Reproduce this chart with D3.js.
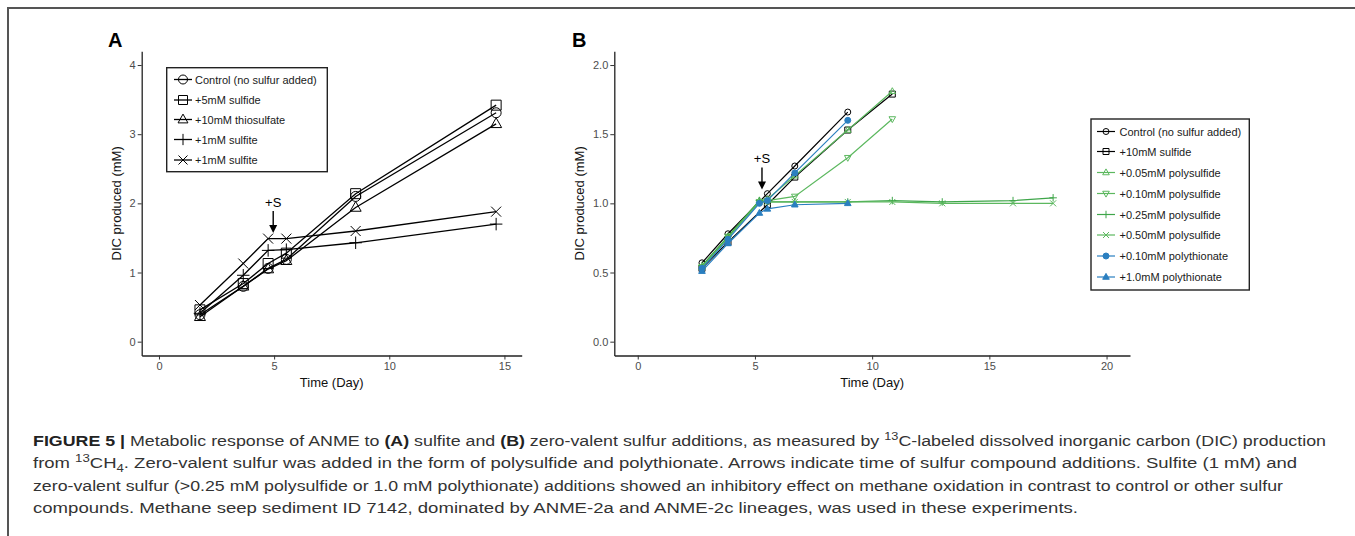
<!DOCTYPE html>
<html>
<head>
<meta charset="utf-8">
<script src="https://cdn.jsdelivr.net/npm/d3@7"></script>
<style>
  body { margin: 0; background: #fff; }
  svg text { font-family: "Liberation Sans", Arial, Helvetica, sans-serif; }
</style>
</head>
<body>
<svg id="fig" width="1355" height="536"></svg>
<script>
// ---- panel A data (sulfite additions) ----
const daysA = [1.78, 3.66, 4.74, 5.53, 8.54, 14.64];
const controlA = [0.39, 0.80, 1.06, 1.19, 2.10, 3.31];
const sulfideA = [0.46, 0.84, 1.13, 1.28, 2.14, 3.42];
const thiosulfateA = [0.36, 0.80, 1.05, 1.17, 1.94, 3.15];
const sulfitePlusA = [0.41, 0.96, 1.32, 1.33, 1.43, 1.70];
const sulfiteCrossA = [0.53, 1.13, 1.49, 1.49, 1.60, 1.88];
const labelsA = ['Control (no sulfur added)', '+5mM sulfide', '+10mM thiosulfate', '+1mM sulfite', '+1mM sulfite'];
const xTicksA = [0, 5, 10, 15];
const yTicksA = [0, 1, 2, 3, 4];

// ---- panel B data (zero-valent sulfur additions) ----
const daysB = [2.74, 3.85, 5.19, 5.53, 6.70, 8.96, 10.86, 12.99, 16.01, 17.72];
const controlB = [0.57, 0.78, null, 1.07, 1.27, 1.66, null, null, null, null];
const sulfideB = [0.53, 0.72, null, 0.99, 1.19, 1.53, 1.79, null, null, null];
const poly005B = [0.54, 0.76, 1.02, 1.03, 1.20, 1.53, 1.81, null, null, null];
const poly010B = [0.54, 0.76, 1.01, 1.02, 1.05, 1.33, 1.61, null, null, null];
const poly025B = [0.55, 0.76, 1.02, 1.01, 1.01, 1.01, 1.02, 1.01, 1.02, 1.04];
const poly050B = [0.54, 0.75, 1.01, 1.01, 1.01, 1.01, 1.01, 1.00, 1.00, 1.00];
const thio010B = [0.53, 0.74, 1.00, 1.02, 1.22, 1.60, null, null, null, null];
const thio100B = [0.51, 0.71, 0.93, 0.96, 0.99, 1.00, null, null, null, null];
const labelsB = ['Control (no sulfur added)', '+10mM sulfide', '+0.05mM polysulfide', '+0.10mM polysulfide',
  '+0.25mM polysulfide', '+0.50mM polysulfide', '+0.10mM polythionate', '+1.0mM polythionate'];
const xTicksB = [0, 5, 10, 15, 20];
const yTicksB = [0, 0.5, 1, 1.5, 2];

// sulfur addition arrows: [day, tip value, tail value]
const arrowA = [4.96, 1.57, 1.89];
const arrowB = [5.30, 1.10, 1.26];

const svg = d3.select('#fig');

// figure frame (left + top rule)
svg.append('path')
  .attr('d', 'M8,536V8H1355')
  .attr('fill', 'none')
  .attr('stroke', '#555')
  .attr('stroke-width', 2);

// marker shapes, s = half size
function markerPath(shape, s) {
  switch (shape) {
    case 'circle':
    case 'dot':
      return `M${-s},0A${s},${s} 0 1,0 ${s},0A${s},${s} 0 1,0 ${-s},0Z`;
    case 'square':
      return `M${-s},${-s}H${s}V${s}H${-s}Z`;
    case 'triUp':
    case 'triFill':
      return `M0,${-s * 1.2}L${s * 1.1},${s * 0.75}H${-s * 1.1}Z`;
    case 'triDown':
      return `M0,${s * 1.2}L${s * 1.1},${-s * 0.75}H${-s * 1.1}Z`;
    case 'plus':
      return `M${-s * 1.25},0H${s * 1.25}M0,${-s * 1.25}V${s * 1.25}`;
    case 'cross':
      return `M${-s},${-s}L${s},${s}M${-s},${s}L${s},${-s}`;
  }
}
const filled = (shape) => shape === 'dot' || shape === 'triFill';

function drawPanel(cfg) {
  const g = svg.append('g');

  const xScale = d3.scaleLinear().domain(cfg.xDomain).range(cfg.xRange);
  const yScale = d3.scaleLinear().domain(cfg.yDomain).range(cfg.yRange);

  //AXES
  const xAxis = d3.axisBottom(xScale).tickValues(cfg.xTicks).tickSize(4).tickSizeOuter(0).tickPadding(3);
  const yAxis = d3.axisLeft(yScale).tickValues(cfg.yTicks).tickSize(4).tickSizeOuter(0).tickPadding(2)
    .tickFormat(cfg.yFormat);

  const gx = g.append('g')
    .attr('transform', `translate(0,${cfg.yRange[0]})`)
    .call(xAxis);
  const gy = g.append('g')
    .attr('transform', `translate(${cfg.xRange[0]},0)`)
    .call(yAxis);
  [gx, gy].forEach((a) => {
    a.select('.domain').attr('stroke', '#222').attr('stroke-width', 1.3);
    a.selectAll('.tick line').attr('stroke', '#333').attr('stroke-width', 1);
    a.selectAll('.tick text').attr('fill', '#4d4d4d').style('font-size', '11px');
  });

  //LABELS
  g.append('text')
    .attr('x', cfg.panelPos[0])
    .attr('y', cfg.panelPos[1])
    .style('font-size', '20px')
    .style('font-weight', 'bold')
    .text(cfg.panel);

  g.append('text')
    .attr('x', (cfg.xRange[0] + cfg.xRange[1]) / 2)
    .attr('y', cfg.yRange[0] + 31)
    .attr('text-anchor', 'middle')
    .style('font-size', '13px')
    .attr('fill', '#111')
    .text('Time (Day)');

  g.append('text')
    .attr('transform', 'rotate(-90)')
    .attr('x', -(cfg.yRange[0] + cfg.yRange[1]) / 2)
    .attr('y', cfg.yLabelX)
    .attr('text-anchor', 'middle')
    .style('font-size', '13px')
    .attr('fill', '#111')
    .text('DIC produced (mM)');

  //SERIES
  const line = d3.line()
    .defined((d) => d.v !== null)
    .x((d) => xScale(d.t))
    .y((d) => yScale(d.v));

  cfg.series.forEach((s) => {
    const pts = s.values.map((v, i) => ({ t: cfg.days[i], v: v })).filter((d) => d.v !== null);
    g.append('path')
      .datum(pts)
      .attr('d', line)
      .attr('fill', 'none')
      .attr('stroke', s.color)
      .attr('stroke-width', cfg.lineWidth);
    g.selectAll(null)
      .data(pts)
      .enter()
      .append('path')
      .attr('transform', (d) => `translate(${xScale(d.t)},${yScale(d.v)})`)
      .attr('d', markerPath(s.shape, cfg.markerSize))
      .attr('fill', filled(s.shape) ? s.color : 'none')
      .attr('stroke', s.color)
      .attr('stroke-width', cfg.markerStroke);
  });

  //ARROW
  const ax = xScale(cfg.arrow[0]);
  const tip = yScale(cfg.arrow[1]);
  const tail = yScale(cfg.arrow[2]);
  g.append('line')
    .attr('x1', ax).attr('x2', ax)
    .attr('y1', tail).attr('y2', tip - 6)
    .attr('stroke', '#000')
    .attr('stroke-width', 1.4);
  g.append('path')
    .attr('d', `M${ax - 4},${tip - 8}L${ax + 4},${tip - 8}L${ax},${tip}Z`)
    .attr('fill', '#000');
  g.append('text')
    .attr('x', ax)
    .attr('y', tail - 4)
    .attr('text-anchor', 'middle')
    .style('font-size', '13px')
    .text('+S');

  //LEGEND
  const lg = cfg.legend;
  g.append('rect')
    .attr('x', lg.x).attr('y', lg.y)
    .attr('width', lg.w).attr('height', lg.h)
    .attr('fill', '#fff')
    .attr('stroke', '#222')
    .attr('stroke-width', 1.4);
  cfg.series.forEach((s, i) => {
    const cy = lg.rows[i];
    g.append('line')
      .attr('x1', lg.symX - 9).attr('x2', lg.symX + 9)
      .attr('y1', cy).attr('y2', cy)
      .attr('stroke', s.color)
      .attr('stroke-width', cfg.lineWidth);
    g.append('path')
      .attr('transform', `translate(${lg.symX},${cy})`)
      .attr('d', markerPath(s.shape, lg.markerSize))
      .attr('fill', filled(s.shape) ? s.color : 'none')
      .attr('stroke', s.color)
      .attr('stroke-width', cfg.markerStroke);
    g.append('text')
      .attr('x', lg.textX)
      .attr('y', cy + 4)
      .style('font-size', '11px')
      .attr('fill', '#1a1a1a')
      .text(s.label);
  });
}

const black = '#000';
const green1 = '#5cb85f';
const green2 = '#3fa64a';
const blue = '#2a7fc0';

drawPanel({
  panel: 'A',
  panelPos: [108, 47],
  xDomain: [-0.75, 15.75], xRange: [141.7, 521.7],
  yDomain: [-0.2, 4.2], yRange: [355.5, 51.2],
  xTicks: xTicksA, yTicks: yTicksA, yFormat: d3.format('d'),
  yLabelX: 121,
  days: daysA,
  lineWidth: 1.3, markerSize: 5, markerStroke: 1,
  arrow: arrowA,
  series: [
    { label: labelsA[0], values: controlA, shape: 'circle', color: black },
    { label: labelsA[1], values: sulfideA, shape: 'square', color: black },
    { label: labelsA[2], values: thiosulfateA, shape: 'triUp', color: black },
    { label: labelsA[3], values: sulfitePlusA, shape: 'plus', color: black },
    { label: labelsA[4], values: sulfiteCrossA, shape: 'cross', color: black },
  ],
  legend: { x: 166.7, y: 67.7, w: 160.6, h: 104, symX: 183, textX: 195,
    rows: [79.5, 100, 119.5, 139.5, 160], markerSize: 4.5 },
});

drawPanel({
  panel: 'B',
  panelPos: [572, 47],
  xDomain: [-1, 21], xRange: [614.3, 1130],
  yDomain: [-0.1, 2.1], yRange: [355.5, 51.2],
  xTicks: xTicksB, yTicks: yTicksB, yFormat: d3.format('.1f'),
  yLabelX: 584,
  days: daysB,
  lineWidth: 1.2, markerSize: 3, markerStroke: 1,
  arrow: arrowB,
  series: [
    { label: labelsB[0], values: controlB, shape: 'circle', color: black },
    { label: labelsB[1], values: sulfideB, shape: 'square', color: black },
    { label: labelsB[2], values: poly005B, shape: 'triUp', color: green1 },
    { label: labelsB[3], values: poly010B, shape: 'triDown', color: green1 },
    { label: labelsB[4], values: poly025B, shape: 'plus', color: green2 },
    { label: labelsB[5], values: poly050B, shape: 'cross', color: green1 },
    { label: labelsB[6], values: thio010B, shape: 'dot', color: blue },
    { label: labelsB[7], values: thio100B, shape: 'triFill', color: blue },
  ],
  legend: { x: 1091, y: 119, w: 158.3, h: 171, symX: 1106, textX: 1119.5,
    rows: [131.5, 151.5, 172.5, 193.5, 214.5, 235, 256, 277], markerSize: 3 },
});

// ---- caption ----
const captionLines = [
  { end: 1326, parts: [['FIGURE 5 | ', 'b'], ['Metabolic response of ANME to '], ['(A)', 'b'], [' sulfite and '], ['(B)', 'b'],
    [' zero-valent sulfur additions, as measured by '], ['13', 'sup'], ['C-labeled dissolved inorganic carbon (DIC) production']] },
  { end: 1297, parts: [['from '], ['13', 'sup'], ['CH'], ['4', 'sub'],
    ['. Zero-valent sulfur was added in the form of polysulfide and polythionate. Arrows indicate time of sulfur compound additions. Sulfite (1 mM) and']] },
  { end: 1283, parts: [['zero-valent sulfur (>0.25 mM polysulfide or 1.0 mM polythionate) additions showed an inhibitory effect on methane oxidation in contrast to control or other sulfur']] },
  { end: 1078, parts: [['compounds. Methane seep sediment ID 7142, dominated by ANME-2a and ANME-2c lineages, was used in these experiments.']] },
];
const capX = 33;
const shiftOf = { sup: -6, sub: 4 };
captionLines.forEach((ln, i) => {
  const t = svg.append('text')
    .attr('x', capX)
    .attr('y', 446 + i * 22.3)
    .attr('textLength', ln.end - capX)
    .attr('lengthAdjust', 'spacingAndGlyphs')
    .style('font-size', '14px')
    .attr('fill', '#333');
  let offset = 0; // current baseline shift
  ln.parts.forEach((p) => {
    const target = shiftOf[p[1]] || 0;
    const ts = t.append('tspan').text(p[0]);
    if (target !== offset) ts.attr('dy', target - offset);
    offset = target;
    if (p[1] === 'b') ts.style('font-weight', 'bold').attr('fill', '#222');
    if (p[1] === 'sup' || p[1] === 'sub') ts.style('font-size', '10px');
  });
});
</script>
</body>
</html>
